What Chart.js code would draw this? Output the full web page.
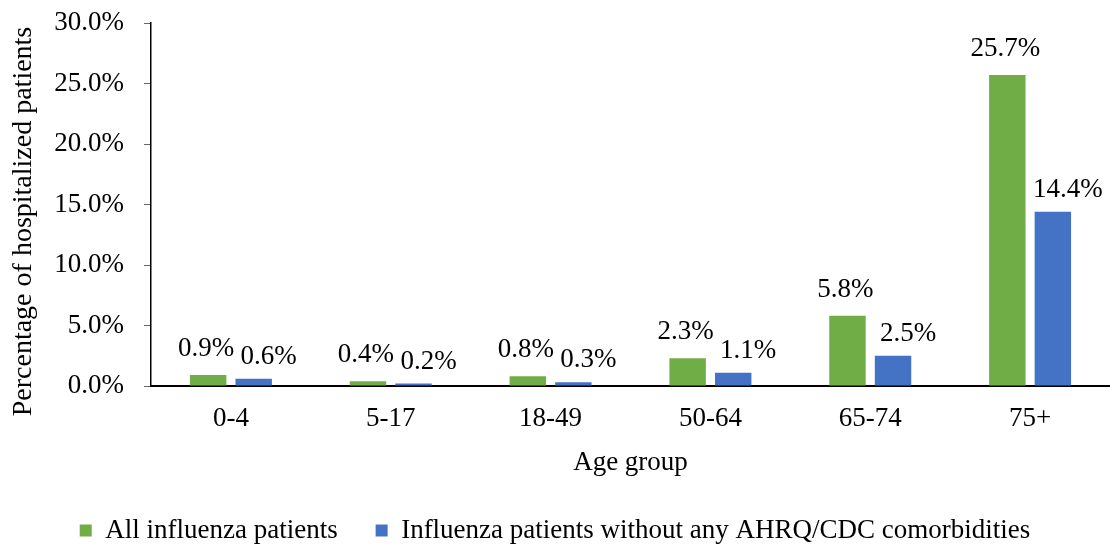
<!DOCTYPE html>
<html>
<head>
<meta charset="utf-8">
<script src="https://cdn.jsdelivr.net/npm/chart.js@4"></script>
<style>
  html, body { margin: 0; padding: 0; background: #fff; }
  #wrap { width: 1110px; height: 546px; position: relative; }
</style>
</head>
<body>
<div id="wrap"><canvas id="c" width="1110" height="546"></canvas></div>
<script>
const categories = ['0-4', '5-17', '18-49', '50-64', '65-74', '75+'];
const allPatients = [0.9, 0.4, 0.8, 2.3, 5.8, 25.7];
const noComorbidity = [0.6, 0.2, 0.3, 1.1, 2.5, 14.4];
const seriesNames = ['All influenza patients', 'Influenza patients without any AHRQ/CDC comorbidities'];
const yTicks = [0, 5, 10, 15, 20, 25, 30];
const yTitle = 'Percentage of hospitalized patients';

const FONT = "'Liberation Serif', 'Times New Roman', serif";
const FS = 27;

const barLabels = {
  id: 'barLabels',
  afterDatasetsDraw(chart, args, opts) {
    const ctx = chart.ctx;
    ctx.save();
    ctx.font = opts.size + 'px ' + FONT;
    ctx.fillStyle = '#000';
    ctx.textAlign = 'center';
    ctx.textBaseline = 'alphabetic';
    chart.data.datasets.forEach((ds, di) => {
      const meta = chart.getDatasetMeta(di);
      meta.data.forEach((el, i) => {
        const v = ds.data[i];
        ctx.fillText(v.toFixed(1) + '%', el.x + opts.shift[di], el.y - opts.lift[di]);
      });
    });
    ctx.restore();
  }
};

const yAxisTitle = {
  id: 'yAxisTitle',
  afterDraw(chart, args, opts) {
    const ctx = chart.ctx;
    const area = chart.chartArea;
    ctx.save();
    ctx.font = opts.size + 'px ' + FONT;
    ctx.fillStyle = '#000';
    ctx.textAlign = 'center';
    ctx.textBaseline = 'middle';
    ctx.translate(opts.x, (area.top + area.bottom) / 2 + opts.dy);
    ctx.rotate(-Math.PI / 2);
    ctx.fillText(opts.text, 0, 0);
    ctx.restore();
  }
};

new Chart(document.getElementById('c'), {
  type: 'bar',
  data: {
    labels: categories,
    datasets: [
      { label: seriesNames[0], data: allPatients, backgroundColor: '#70AD47', categoryPercentage: 0.57, barPercentage: 0.8 },
      { label: seriesNames[1], data: noComorbidity, backgroundColor: '#4472C4', categoryPercentage: 0.57, barPercentage: 0.8 }
    ]
  },
  options: {
    responsive: false,
    animation: false,
    devicePixelRatio: 1,
    layout: { padding: { left: 0, right: 0, top: 0, bottom: -8 } },
    scales: {
      x: {
        afterFit(scale) { scale.height = 93; },
        grid: { display: false, drawTicks: false },
        border: { display: true, color: '#000', width: 2 },
        ticks: { color: '#000', font: { family: FONT, size: FS }, padding: 17, maxRotation: 0 },
        title: { display: true, text: 'Age group', color: '#000', font: { family: FONT, size: FS }, padding: { top: 0, bottom: 0 } }
      },
      y: {
        min: 0, max: 30,
        afterBuildTicks(scale) { scale.ticks = yTicks.map(v => ({ value: v })); },
        afterFit(scale) { scale.width = 151; scale.paddingTop = 23; scale.paddingBottom = 0; },
        grid: { drawOnChartArea: false, drawTicks: true, tickLength: 7, color: '#666', tickColor: '#666' },
        border: { display: true, color: '#000', width: 1.5 },
        ticks: { color: '#000', font: { family: FONT, size: FS }, padding: 20, callback: v => v.toFixed(1) + '%' },
        title: { display: false }
      }
    },
    plugins: {
      legend: {
        position: 'bottom',
        labels: { color: '#000', font: { family: FONT, size: 27 }, boxWidth: 12, boxHeight: 12, padding: 38 }
      },
      tooltip: { enabled: false },
      barLabels: { size: 27, shift: [-2, 15], lift: [19, 15] },
      yAxisTitle: { text: yTitle, size: 28, x: 24, dy: 17 }
    }
  },
  plugins: [barLabels, yAxisTitle]
});
</script>
</body>
</html>
